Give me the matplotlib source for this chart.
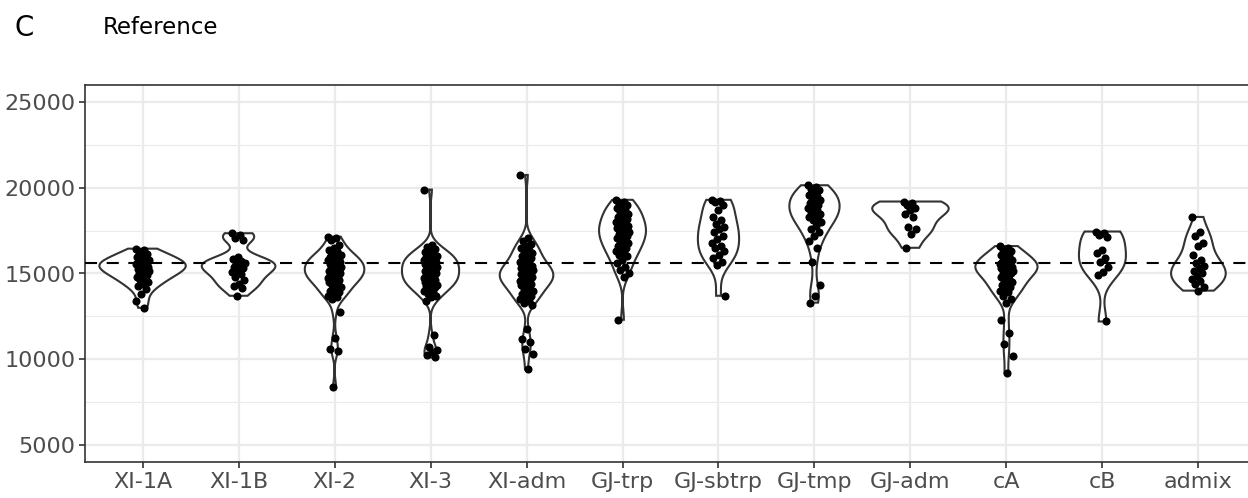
import numpy as np
import matplotlib
matplotlib.use("Agg")
import matplotlib.pyplot as plt

# Groups (x axis order)
groups = ["XI-1A", "XI-1B", "XI-2", "XI-3", "XI-adm", "GJ-trp",
          "GJ-sbtrp", "GJ-tmp", "GJ-adm", "cA", "cB", "admix"]

# Values, one list per group
xi_1a = [16450, 16380, 16250, 16150, 16050, 15950, 15900, 15850, 15780, 15720,
         15680, 15620, 15580, 15530, 15480, 15430, 15380, 15330, 15280, 15230,
         15180, 15120, 15060, 15000, 14920, 14850, 14780, 14700, 14600, 14500,
         14380, 14250, 14100, 13800, 13400, 13000]
xi_1b = [17350, 17250, 17050, 16950, 15950, 15850, 15750, 15650, 15600, 15500,
         15400, 15300, 15200, 15100, 14950, 14800, 14600, 14400, 14250, 14150,
         13700]
xi_2 = [17150, 17050, 16950, 16650, 16500, 16400, 16300, 16200, 16100, 16000,
        15950, 15900, 15850, 15800, 15750, 15700, 15650, 15600, 15550, 15500,
        15450, 15400, 15350, 15300, 15250, 15200, 15150, 15100, 15050, 15000,
        14950, 14900, 14850, 14800, 14750, 14700, 14650, 14600, 14550, 14500,
        14400, 14300, 14200, 14100, 14000, 13900, 13800, 13700, 13600, 13500,
        12750, 11250, 10600, 10450, 8350]
xi_3 = [19900, 16650, 16550, 16450, 16350, 16250, 16150, 16100, 16050, 16000,
        15950, 15900, 15850, 15800, 15750, 15700, 15650, 15600, 15550, 15500,
        15450, 15400, 15350, 15300, 15250, 15200, 15150, 15100, 15050, 15000,
        14950, 14900, 14850, 14800, 14750, 14700, 14650, 14600, 14550, 14500,
        14450, 14400, 14350, 14300, 14250, 14200, 14100, 14000, 13900, 13800,
        13700, 13600, 13400, 11400, 10700, 10550, 10400, 10250, 10100]
xi_adm = [20750, 17100, 16900, 16750, 16600, 16500, 16400, 16300, 16200, 16100,
          16000, 15900, 15800, 15700, 15600, 15500, 15450, 15400, 15350, 15300,
          15250, 15200, 15150, 15100, 15050, 15000, 14950, 14900, 14850, 14800,
          14750, 14700, 14650, 14600, 14550, 14500, 14450, 14400, 14350, 14300,
          14200, 14100, 14000, 13900, 13800, 13700, 13600, 13500, 13400, 13300,
          13150, 11750, 11150, 11000, 10600, 10300, 9400]
gj_trp = [19300, 19200, 19100, 19000, 18900, 18800, 18700, 18600, 18500, 18400,
          18300, 18200, 18100, 18000, 17950, 17900, 17800, 17700, 17650, 17600,
          17500, 17400, 17350, 17300, 17200, 17100, 17050, 17000, 16900, 16800,
          16700, 16600, 16500, 16400, 16300, 16200, 16100, 16000, 15800, 15600,
          15400, 15200, 15000, 14800, 12300]
gj_sbtrp = [19300, 19250, 19200, 19000, 18700, 18300, 18100, 17900, 17700, 17600,
            17400, 17200, 17000, 16800, 16600, 16500, 16300, 16100, 15900, 15700,
            15500, 13700]
gj_tmp = [20150, 20050, 19950, 19850, 19700, 19600, 19500, 19400, 19300, 19200,
          19100, 19000, 18900, 18800, 18700, 18600, 18500, 18400, 18300, 18200,
          18100, 18000, 17800, 17600, 17400, 17200, 16900, 16500, 15700, 14300,
          13700, 13300]
gj_adm = [19200, 19100, 19000, 18850, 18700, 18500, 18300, 17700, 17600, 17300,
          16500]
c_a = [16600, 16500, 16400, 16300, 16200, 16100, 16000, 15900, 15800, 15750,
       15700, 15650, 15600, 15550, 15500, 15450, 15400, 15350, 15300, 15250,
       15200, 15150, 15100, 15050, 15000, 14900, 14800, 14700, 14600, 14500,
       14400, 14300, 14200, 14100, 14000, 13900, 13700, 13500, 13300, 12300,
       11500, 10900, 10200, 9200]
c_b = [17450, 17350, 17250, 17150, 16400, 16200, 15900, 15700, 15400, 15100,
       14900, 12200]
admix = [18300, 17400, 17200, 16800, 16600, 16100, 15800, 15600, 15450, 15300,
         15150, 15000, 14850, 14700, 14550, 14400, 14200, 14000]

data = [xi_1a, xi_1b, xi_2, xi_3, xi_adm, gj_trp, gj_sbtrp, gj_tmp,
        gj_adm, c_a, c_b, admix]

ref_line = 15600
y_ticks = [5000, 10000, 15000, 20000, 25000]


def kde(vals, grid):
    # gaussian kernel with R's bw.nrd0 bandwidth, like geom_violin
    v = np.asarray(vals, dtype=float)
    sd = v.std(ddof=1)
    iqr = np.subtract(*np.percentile(v, [75, 25]))
    lo = min(sd, iqr / 1.34) if iqr > 0 else sd
    bw = 0.9 * lo * len(v) ** (-0.2)
    z = (grid[:, None] - v[None, :]) / bw
    return np.exp(-0.5 * z ** 2).sum(axis=1) / (len(v) * bw * np.sqrt(2 * np.pi))


fig = plt.figure(figsize=(12.48, 4.98), dpi=100)
ax = fig.add_axes([85 / 1248, 36 / 498, 1171 / 1248, 377 / 498])

dens = []
for vals in data:
    grid = np.linspace(min(vals), max(vals), 512)
    dens.append((grid, kde(vals, grid)))
dmax = max(d.max() for _, d in dens)

for i, (grid, d) in enumerate(dens):
    x = i + 1
    half = 0.45 * d / dmax
    xs = np.concatenate([x - half, (x + half)[::-1], [x - half[0]]])
    ys = np.concatenate([grid, grid[::-1], [grid[0]]])
    ax.fill(xs, ys, facecolor="white", edgecolor="#333333", lw=1.5, zorder=2)

ax.axhline(ref_line, color="black", ls=(0, (5.8, 4.6)), lw=1.5, zorder=3)

for i, vals in enumerate(data):
    n = len(vals)
    jit = ((np.arange(n) * 0.618034) % 1 - 0.5) * 0.14
    ax.scatter(i + 1 + jit, vals, s=34, color="black", lw=0, zorder=4)

ax.set_xlim(0.4, 12.6)
ax.set_ylim(4000, 26000)
ax.set_xticks(range(1, len(groups) + 1))
ax.set_xticklabels(groups)
ax.set_yticks(y_ticks)
ax.set_yticks([7500, 12500, 17500, 22500], minor=True)
ax.grid(which="major", color="#ebebeb", lw=1.6, zorder=0)
ax.grid(which="minor", axis="y", color="#ebebeb", lw=0.8, zorder=0)
ax.set_axisbelow(True)
ax.tick_params(which="major", length=4, width=1.2, color="#333333",
               labelcolor="#4d4d4d", labelsize=16, pad=3)
ax.tick_params(which="minor", length=0)
for s in ax.spines.values():
    s.set_color("#333333")
    s.set_linewidth(1.2)

fig.text(14 / 1248, 1 - 28 / 498, "C", fontsize=20, va="center", ha="left")
fig.text(103 / 1248, 1 - 28 / 498, "Reference", fontsize=16.5, va="center", ha="left")

fig.savefig("out.png", dpi=100)
